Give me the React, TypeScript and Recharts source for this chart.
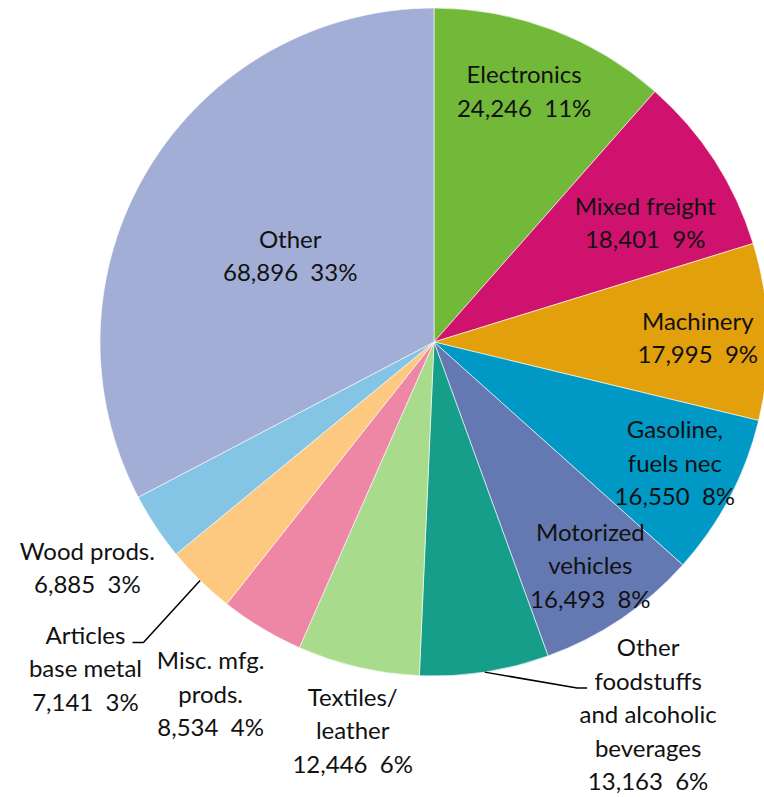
import { PieChart, Pie, Cell } from 'recharts';

// commodity groups, clockwise from 12 o'clock
const categories = [
  'Electronics',
  'Mixed freight',
  'Machinery',
  'Gasoline, fuels nec',
  'Motorized vehicles',
  'Other foodstuffs and alcoholic beverages',
  'Textiles/ leather',
  'Misc. mfg. prods.',
  'Articles base metal',
  'Wood prods.',
  'Other',
];
const values = [24246, 18401, 17995, 16550, 16493, 13163, 12446, 8534, 7141, 6885, 68896];
const percentLabels = ['11%', '9%', '9%', '8%', '8%', '6%', '6%', '4%', '3%', '3%', '33%'];
const labelLines = [
  ['Electronics'],
  ['Mixed freight'],
  ['Machinery'],
  ['Gasoline,', 'fuels nec'],
  ['Motorized', 'vehicles'],
  ['Other', 'foodstuffs', 'and alcoholic', 'beverages'],
  ['Textiles/', 'leather'],
  ['Misc. mfg.', 'prods.'],
  ['Articles', 'base metal'],
  ['Wood prods.'],
  ['Other'],
];

const COLORS = [
  '#72b93a', '#d0126f', '#e2a00d', '#0099c6', '#6479b2', '#169e8a',
  '#a8db8c', '#ee86a6', '#fdc981', '#84c4e4', '#a3aed6',
];

// label placement: distance as a share of the radius, and angular nudge (deg, clockwise)
const LABEL_RADIUS = [0.8, 0.727, 0.79, 0.806, 0.815, 1.285, 1.186, 1.246, 1.428, 1.237, 0.503];
const LABEL_SHIFT = [-1, 3.3, 0.7, -1.2, -1, -21.2, -1.3, 1.4, 2.5, 0.6, 0];
// leader lines: [elbow dx, elbow dy, end dx] relative to the label anchor
const LEADERS: Record<number, [number, number, number]> = {
  5: [-71, -26, -61],
  8: [58, -25, 47],
};

const RAD = Math.PI / 180;
const LINE_H = 33.5;

const data = categories.map((name, i) => ({ name, value: values[i] }));

function fmt(n: number) {
  return n.toLocaleString('en-US');
}

function renderLabel(props: any) {
  const { cx, cy, midAngle, outerRadius, index } = props;
  const ang = (midAngle - LABEL_SHIFT[index]) * RAD;
  const r = outerRadius * LABEL_RADIUS[index];
  const x = cx + r * Math.cos(-ang);
  const y = cy + r * Math.sin(-ang);
  const lines = [...labelLines[index], `${fmt(values[index])}  ${percentLabels[index]}`];
  const n = lines.length;
  const leader = LEADERS[index];
  let path = null;
  if (leader) {
    const sx = cx + outerRadius * Math.cos(-midAngle * RAD);
    const sy = cy + outerRadius * Math.sin(-midAngle * RAD);
    const ex = x + leader[0];
    const ey = y + leader[1];
    path = (
      <polyline
        points={`${sx},${sy} ${ex},${ey} ${x + leader[2]},${ey}`}
        fill="none"
        stroke="#000"
        strokeWidth={1.5}
      />
    );
  }
  return (
    <g key={`lbl-${index}`}>
      {path}
      <text
        x={x}
        y={y}
        textAnchor="middle"
        fill="#111"
        fontSize={24}
        fontFamily="Lato, sans-serif"
        style={{ whiteSpace: 'pre' }}
      >
        {lines.map((t, i) => (
          <tspan key={i} x={x} y={y + (i - (n - 1) / 2) * LINE_H} dominantBaseline="central">
            {t}
          </tspan>
        ))}
      </text>
    </g>
  );
}

export default function App() {
  return (
    <div style={{ position: 'absolute', left: 0, top: 0, background: '#fff' }}>
      <PieChart width={764} height={797} margin={{ top: 0, right: 0, bottom: 0, left: 0 }}>
        <Pie
          data={data}
          dataKey="value"
          nameKey="name"
          cx={434}
          cy={342}
          outerRadius={334}
          startAngle={90}
          endAngle={-270}
          stroke="#ffffff"
          strokeWidth={0.6}
          label={renderLabel}
          labelLine={false}
          isAnimationActive={false}
        >
          {data.map((_, i) => (
            <Cell key={`cell-${i}`} fill={COLORS[i]} />
          ))}
        </Pie>
      </PieChart>
    </div>
  );
}
